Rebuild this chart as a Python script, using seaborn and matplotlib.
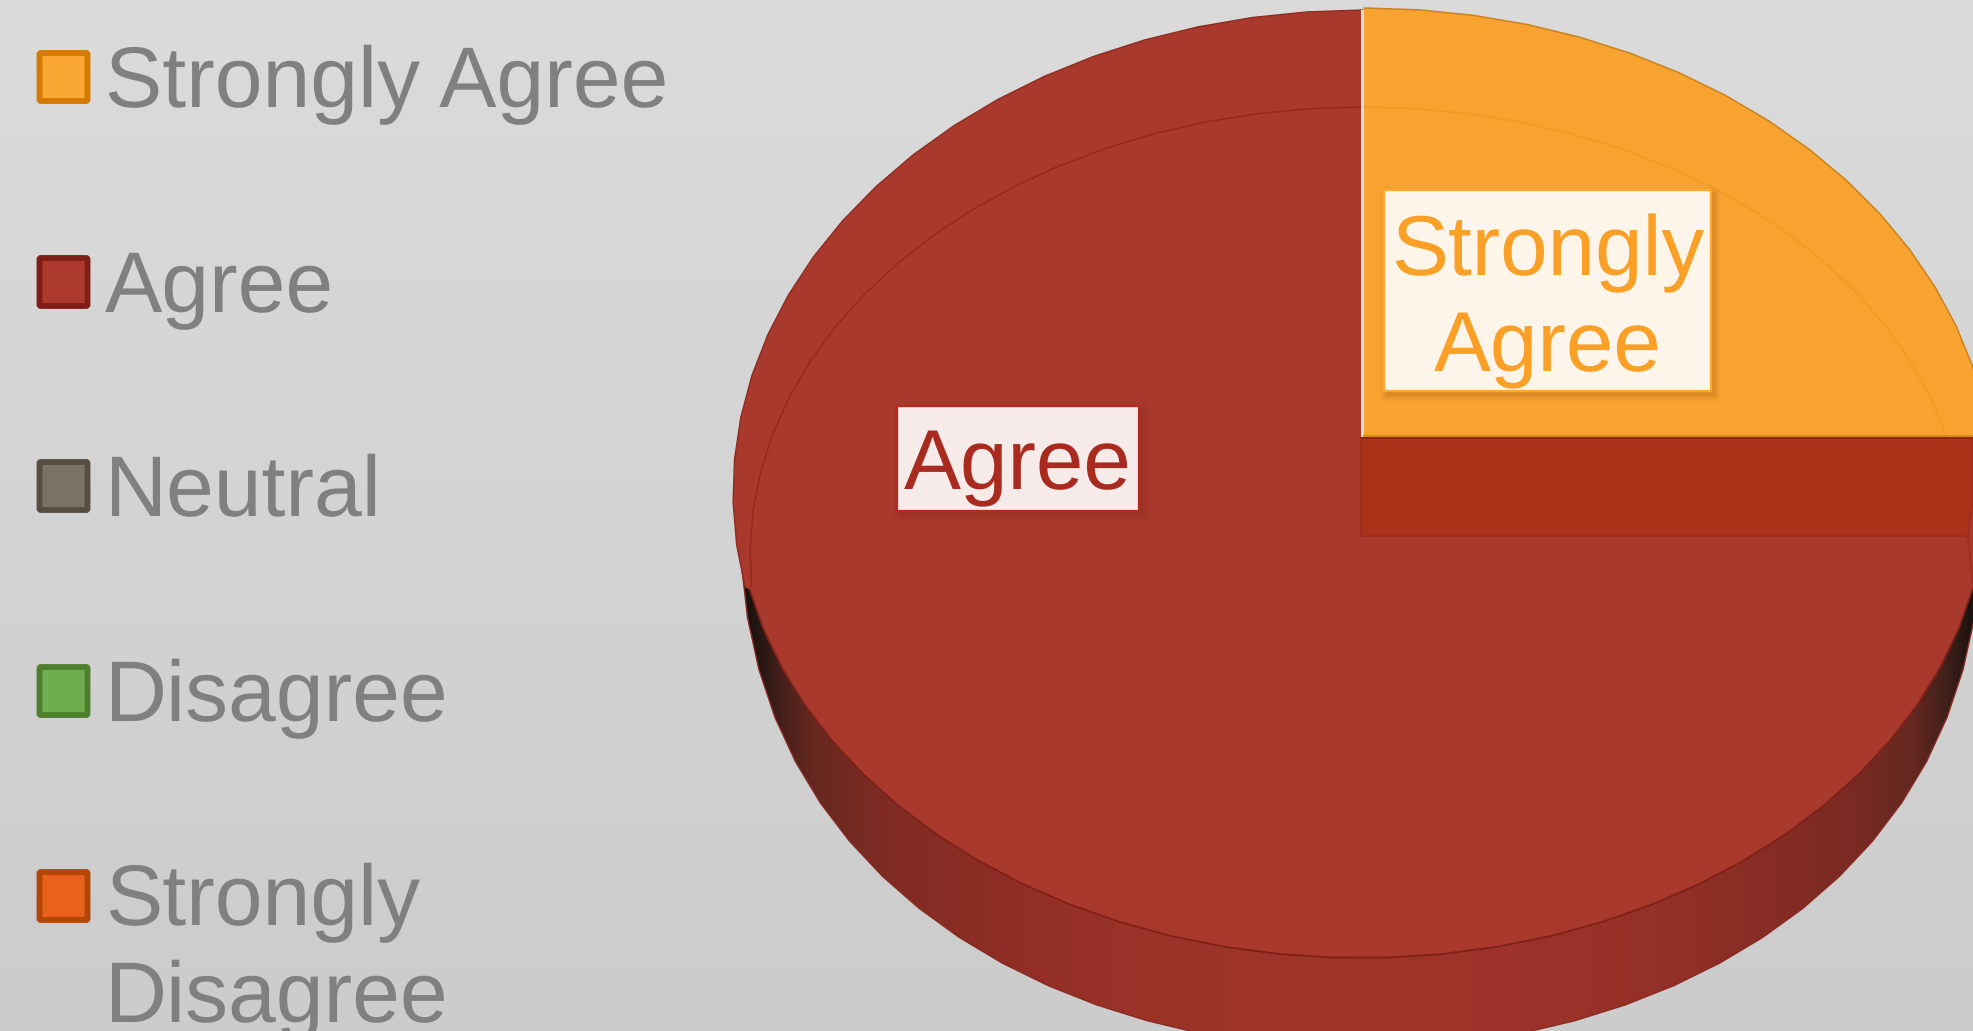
import numpy as np
import matplotlib
matplotlib.use("Agg")
import matplotlib.pyplot as plt
from matplotlib.colors import LinearSegmentedColormap
from matplotlib.patches import Polygon, Rectangle, FancyBboxPatch
import seaborn as sns

# Survey responses
categories = ["Strongly Agree", "Agree", "Neutral", "Disagree", "Strongly Disagree"]
legend_labels = ["Strongly Agree", "Agree", "Neutral", "Disagree", "Strongly\nDisagree"]
values = [25, 75, 0, 0, 0]

# Legend swatches: fill and border for each category
fill_colors = ["#FBA733", "#AE392E", "#7A7265", "#70AD4E", "#E8621B"]
edge_colors = ["#D57A00", "#7F1E14", "#564E43", "#4E7F2E", "#B14607"]

sns.set_theme(style="white")
plt.rcParams["font.family"] = ["Liberation Sans", "DejaVu Sans"]
plt.rcParams["text.hinting"] = "no_hinting"

W, H = 1973, 1031
fig = plt.figure(figsize=(W / 100, H / 100), dpi=100)
ax = fig.add_axes([0, 0, 1, 1])
ax.set_xlim(0, W)
ax.set_ylim(H, 0)
ax.axis("off")

# Backdrop: soft vertical grey gradient
bg = LinearSegmentedColormap.from_list("bg", ["#DBDBDB", "#CCCCCC"])
ax.imshow(np.linspace(0, 1, 256)[:, None], extent=[0, W, H, 0], cmap=bg, aspect="auto", zorder=0)

# Ellipses of the tilted disc; p < 1 fattens the curve toward the sides (perspective)
TOP = dict(cx=1363, cy=493, rx=630, ry=483, p=1.0)     # far rim
FRONT = dict(cx=1361, cy=493, rx=625, ry=465, p=1.0)   # near rim of the top face
BASE = dict(cx=1361, cy=493, rx=622, ry=556, p=0.83)   # lower edge of the side wall
RISEN = dict(cx=1364, cy=491, rx=630, ry=483, p=1.0)   # rim of the lifted slice
INNER_L = dict(cx=1363, cy=555, rx=613, ry=448, p=1.0)
INNER_R = dict(cx=1364, cy=540, rx=600, ry=433, p=1.0)


def arc(e, a0, a1, step=5.0):
    # the rim is a faceted polyline, one chord every few degrees
    n = max(2, int(round(abs(a1 - a0) / step)) + 1)
    t = np.radians(np.linspace(a0, a1, n))
    s = np.sin(t)
    return np.column_stack([e["cx"] + e["rx"] * np.cos(t),
                            e["cy"] - e["ry"] * np.sign(s) * np.abs(s) ** e["p"]])


def angle_at(e, y):
    # angle below the horizontal at which an ellipse reaches height y
    return np.degrees(np.arcsin(((y - e["cy"]) / e["ry"]) ** (1 / e["p"])))


# Slice boundaries, clockwise from twelve o'clock
shares = np.array(values, dtype=float) / np.sum(values)
ends = 90 - 360 * np.cumsum(shares)
orange_end = ends[0]
LIFT_Y = 437
FLOOR_Y = 536

# Side wall, shaded darker toward both ends
wall_stops = [
    (0.000, "#1B1310"), (0.012, "#1B1310"), (0.022, "#2A1714"), (0.040, "#4A211B"),
    (0.065, "#672820"), (0.120, "#7F2B23"), (0.230, "#912E26"), (0.320, "#9B3329"),
    (0.500, "#A0342A"), (0.680, "#9A3229"), (0.790, "#8C2E26"), (0.890, "#7A2A22"),
    (0.940, "#632820"), (0.968, "#3E1F1A"), (0.985, "#1B1310"), (1.000, "#1B1310"),
]
wall_cmap = LinearSegmentedColormap.from_list("wall", wall_stops)
wall = ax.imshow(np.linspace(0, 1, 1024)[None, :], extent=[732, 1992, H, 0],
                 cmap=wall_cmap, aspect="auto", zorder=1)
wall_from = angle_at(BASE, 560)
base_pts = arc(BASE, -wall_from, -180 + wall_from)
base_poly = Polygon(base_pts, closed=True, transform=ax.transData, fc="none", ec="none")
ax.add_patch(base_poly)
wall.set_clip_path(base_poly)
ax.plot(base_pts[:, 0], base_pts[:, 1], color="#8A2A20", lw=1.0, zorder=2)
ax.set_xlim(0, W)
ax.set_ylim(H, 0)

# Top face of the large slice: lower rim first, then round by the left to twelve o'clock
front_from = angle_at(FRONT, 590)
front_arc = arc(FRONT, orange_end - 12, -180 + front_from)
top_arc = arc(TOP, 180 + angle_at(TOP, 587), 90)
red_pts = np.vstack([[W + 40, LIFT_Y], [W + 40, FRONT["cy"] + 90], front_arc, top_arc,
                     [1361, 11], [1361, LIFT_Y]])
ax.add_patch(Polygon(red_pts, closed=True, fc="#A9382D", ec="none", zorder=3))
ax.plot(top_arc[:, 0], top_arc[:, 1], color="#8E2C22", lw=1.0, zorder=4)
ax.plot(front_arc[:, 0], front_arc[:, 1], color="#7E2116", lw=1.3, zorder=4)

# Inner rim seen through the large slice
inner_left = arc(INNER_L, 90, 184)
ax.plot(inner_left[:, 0], inner_left[:, 1], color="#96281D", lw=1.1, zorder=4)

# Gap left by the lifted slice, showing its cut wall
cut_pts = [[1361, LIFT_Y], [W, LIFT_Y], [W, 500], [1968, FLOOR_Y], [1361, FLOOR_Y]]
ax.add_patch(Polygon(cut_pts, closed=True, fc="#AB3119", ec="#9F2C1E", lw=1.2, zorder=5))
ax.plot([1968, W], [FLOOR_Y, 588], color="#9F2C1E", lw=1.2, zorder=5)

# Pale sliver between the two slices
ax.add_patch(Rectangle((1361, 10), 3, LIFT_Y - 10, fc="#DEDCD8", ec="none", zorder=5))

# Lifted slice
rim = arc(RISEN, 90, orange_end)
rim[:, 1] = np.minimum(rim[:, 1], LIFT_Y)
orange_pts = np.vstack([[1364, LIFT_Y], rim])
ax.add_patch(Polygon(orange_pts, closed=True, fc="#F8A330", ec="none", zorder=6))
ax.plot(rim[:, 0], rim[:, 1], color="#C9821F", lw=1.1, zorder=7)
inner_right = arc(INNER_R, 90, 14)
ax.plot(inner_right[:, 0], inner_right[:, 1], color="#F39A20", lw=1.1, zorder=7)
ax.plot([1364, W], [LIFT_Y - 1, LIFT_Y - 1], color="#D98A14", lw=1.6, zorder=7)
ax.plot([1361, W], [LIFT_Y + 1, LIFT_Y + 1], color="#8F2412", lw=1.4, zorder=7)


def data_label(text, x0, y0, x1, y1, face, edge, color, text_y):
    # soft drop shadow under the callout box
    for grow, alpha in zip((7, 5, 3, 1), (0.025, 0.035, 0.05, 0.07)):
        ax.add_patch(Rectangle((x0 + 3 - grow, y0 + 4 - grow), x1 - x0 + 2 * grow, y1 - y0 + 2 * grow,
                               fc="#5A2000", ec="none", alpha=alpha, zorder=8))
    ax.add_patch(Rectangle((x0, y0), x1 - x0, y1 - y0, fc=face, ec=edge, lw=1.6, zorder=9))
    ax.text((x0 + x1) / 2, text_y, text, ha="center", va="baseline", color=color,
            fontsize=61.5, linespacing=1.27, zorder=10)


data_label("Strongly\nAgree", 1384, 190, 1711, 391, "#FDF5EA", "#FBA933", "#FBA026", 371)
data_label("Agree", 897, 406, 1139, 511, "#F6EBE9", "#B32A20", "#A92B20", 489)

# Legend
legend_y = [77, 282, 486, 691, 896]
baselines = [107, 312, 516, 721, 1022]
for label, fc, ec, ym, base in zip(legend_labels, fill_colors, edge_colors, legend_y, baselines):
    ax.add_patch(FancyBboxPatch((39.5, ym - 24), 48, 48, boxstyle="round,pad=0,rounding_size=1.5",
                                fc=fc, ec=ec, lw=4.2, zorder=3))
    ax.text(105, base, label, ha="left", va="baseline", color="#808080", fontsize=61.8,
            linespacing=1.26, zorder=3)

fig.savefig("out.png", dpi=100)
